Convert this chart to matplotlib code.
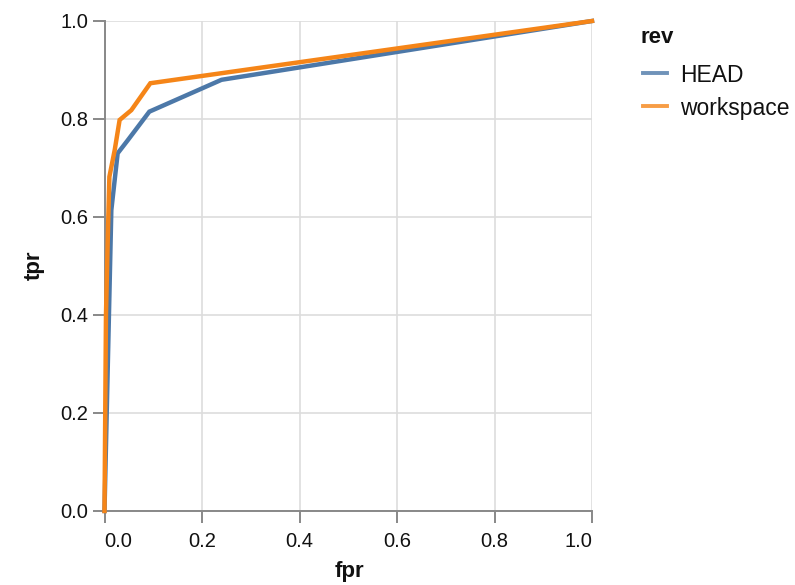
import numpy as np
import matplotlib
matplotlib.use("Agg")
import matplotlib.pyplot as plt
from matplotlib.lines import Line2D

plt.rcParams['font.family'] = ['Liberation Sans', 'DejaVu Sans']

# ROC points
head_fpr = [0.0, 0.014, 0.027, 0.048, 0.092, 0.24, 1.0]
head_tpr = [0.0, 0.614, 0.730, 0.757, 0.815, 0.880, 1.0]
work_fpr = [0.0, 0.003, 0.007, 0.010, 0.021, 0.031, 0.055, 0.094, 1.0]
work_tpr = [0.0, 0.40, 0.567, 0.682, 0.737, 0.798, 0.818, 0.873, 1.0]
revs = ['HEAD', 'workspace']
colors = ['#4c78a8', '#f58518']
ticks = [0.0, 0.2, 0.4, 0.6, 0.8, 1.0]

W, H = 795, 585
def fx(px):
    return px / W
def fy(py):
    return 1 - py / H

fig = plt.figure(figsize=(7.95, 5.85), dpi=100)
ax = fig.add_axes([fx(104.5), fy(511), 487.5 / W, 490 / H])

ax.plot(head_fpr, head_tpr, color=colors[0], lw=3.2, solid_joinstyle='miter', zorder=3, clip_on=False)
ax.plot(work_fpr, work_tpr, color=colors[1], lw=3.2, solid_joinstyle='miter', zorder=4, clip_on=False)

ax.set_xlim(0, 1)
ax.set_ylim(0, 1)
ax.set_xticks(ticks)
ax.set_yticks(ticks)
ax.set_xticklabels(['%.1f' % t for t in ticks])
ax.set_yticklabels(['%.1f' % t for t in ticks])
# x labels flush at the ends, like vega-lite
xlabs = ax.get_xticklabels()
xlabs[0].set_ha('left')
xlabs[-1].set_ha('right')
ax.grid(True, color='#dddddd', lw=1.2)
ax.set_axisbelow(True)
for s in ['top', 'right']:
    ax.spines[s].set_visible(False)
for s in ['left', 'bottom']:
    ax.spines[s].set_color('#888888')
    ax.spines[s].set_linewidth(1.4)
ax.tick_params(colors='#888888', length=8.3, width=1.4, labelsize=14.5, labelcolor='#111111')
ax.tick_params(axis='x', pad=7)
ax.tick_params(axis='y', pad=3.5)

# axis titles
fig.text(fx(349), fy(577), 'fpr', ha='center', va='baseline', fontsize=16, fontweight='bold', color='#111111')
fig.text(fx(34), fy(265), 'tpr', ha='center', va='center', rotation=90, fontsize=16, fontweight='bold', color='#111111')

# legend
fig.text(fx(641), fy(43), 'rev', ha='left', va='baseline', fontsize=16, fontweight='bold', color='#111111')
for i, (name, c) in enumerate(zip(revs, colors)):
    ysym = 73.3 + 32.7 * i
    fig.add_artist(Line2D([fx(643), fx(667)], [fy(ysym), fy(ysym)], color=c, lw=2.8,
                          alpha=0.8, transform=fig.transFigure))
    fig.text(fx(680), fy(ysym + 8.7), name, ha='left', va='baseline', fontsize=16.5, color='#111111')

fig.savefig('out.png', dpi=100)
